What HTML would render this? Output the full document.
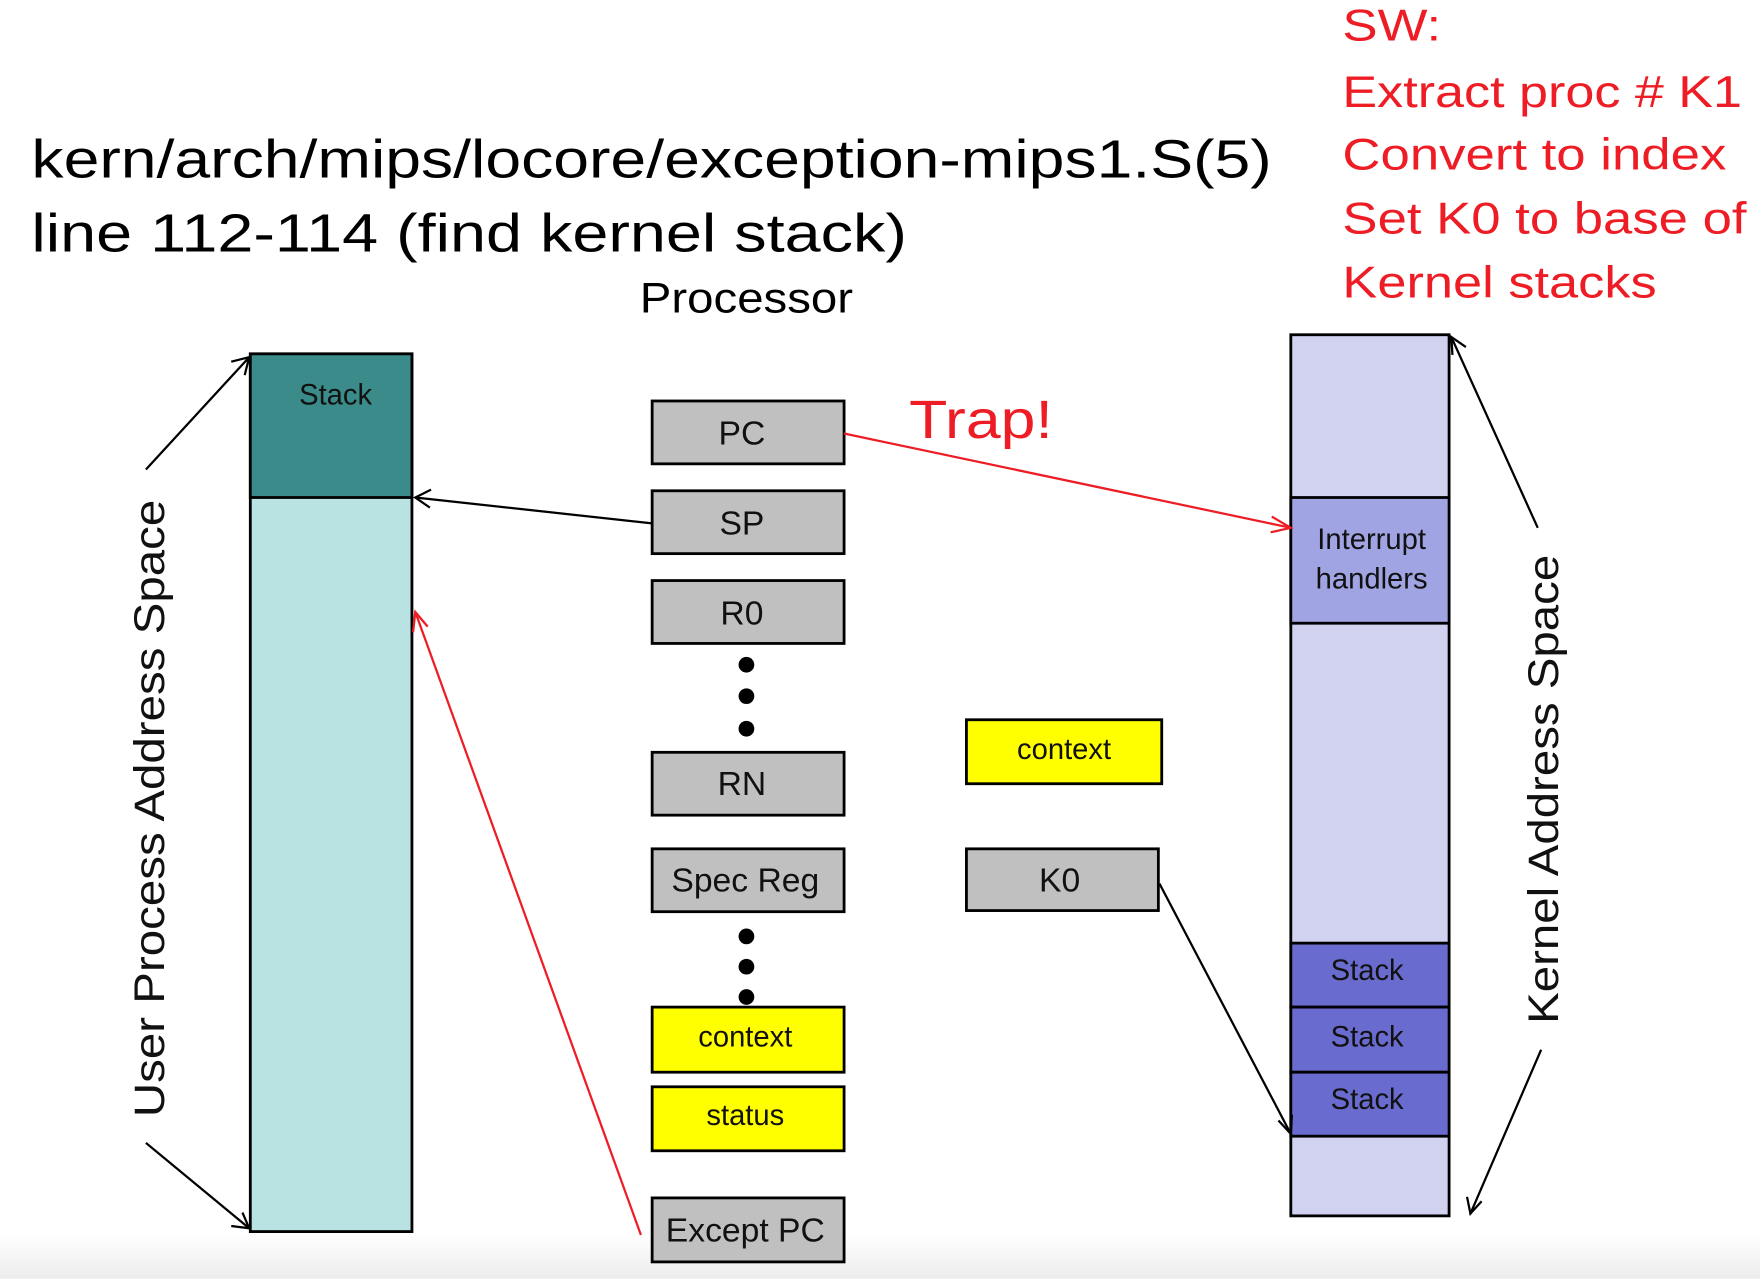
<!DOCTYPE html>
<html><head><meta charset="utf-8"><style>html,body{margin:0;padding:0;background:#fff;}svg{display:block;}svg text{font-family:"Liberation Sans",Arial,sans-serif;}</style></head>
<body>
<svg width="1760" height="1279" viewBox="0 0 1568 1139" xmlns="http://www.w3.org/2000/svg" style="font-family:'Liberation Sans',Arial,sans-serif">
<defs>
<linearGradient id="bg" x1="0" y1="0" x2="0" y2="1"><stop offset="0" stop-color="#fff"/><stop offset="1" stop-color="#ececec"/></linearGradient>
</defs>
<rect width="1568" height="1139" fill="#fff"/>
<rect y="1100" width="1568" height="39" fill="url(#bg)"/>
<text x="28" y="158" font-size="48" textLength="1105" lengthAdjust="spacingAndGlyphs">kern/arch/mips/locore/exception-mips1.S(5)</text>
<text x="28" y="224" font-size="48" textLength="780" lengthAdjust="spacingAndGlyphs">line 112-114 (find kernel stack)</text>
<text x="570" y="278" font-size="38" textLength="190" lengthAdjust="spacingAndGlyphs">Processor</text>
<g fill="#ee1c24" font-size="40">
<text x="1196" y="36" textLength="88" lengthAdjust="spacingAndGlyphs">SW:</text>
<text x="1196" y="95" textLength="356" lengthAdjust="spacingAndGlyphs">Extract proc # K1</text>
<text x="1196" y="151" textLength="342" lengthAdjust="spacingAndGlyphs">Convert to index</text>
<text x="1196" y="208" textLength="360" lengthAdjust="spacingAndGlyphs">Set K0 to base of</text>
<text x="1196" y="265" textLength="280" lengthAdjust="spacingAndGlyphs">Kernel stacks</text>
</g>
<rect x="223" y="315" width="144" height="782" fill="#b9e2e2" stroke="#000" stroke-width="2.5"/>
<rect x="223" y="315" width="144" height="128" fill="#3b8b8b" stroke="#000" stroke-width="2.5"/>
<text x="299" y="360" font-size="26" text-anchor="middle" fill="#111">Stack</text>
<rect x="1150" y="298" width="141" height="785" fill="#d0d2ef" stroke="#000" stroke-width="2.5"/>
<rect x="1150" y="443" width="141" height="112" fill="#a1a4e2" stroke="#000" stroke-width="2.5"/>
<text x="1222" y="489" font-size="26" text-anchor="middle" fill="#111">Interrupt</text>
<text x="1222" y="524" font-size="26" text-anchor="middle" fill="#111">handlers</text>
<g fill="#6a6bcf" stroke="#000" stroke-width="2.5">
<rect x="1150" y="840" width="141" height="57"/><rect x="1150" y="897" width="141" height="58"/><rect x="1150" y="955" width="141" height="57"/>
</g>
<g font-size="26" text-anchor="middle" fill="#111"><text x="1218" y="873">Stack</text><text x="1218" y="932">Stack</text><text x="1218" y="988">Stack</text></g>
<g stroke="#000" stroke-width="2.5">
<rect x="581" y="357" width="171" height="56" fill="#c0c0c0"/>
<rect x="581" y="437" width="171" height="56" fill="#c0c0c0"/>
<rect x="581" y="517" width="171" height="56" fill="#c0c0c0"/>
<rect x="581" y="670" width="171" height="56" fill="#c0c0c0"/>
<rect x="581" y="756" width="171" height="56" fill="#c0c0c0"/>
<rect x="581" y="897" width="171" height="58" fill="#ffff00"/>
<rect x="581" y="968" width="171" height="57" fill="#ffff00"/>
<rect x="581" y="1067" width="171" height="57" fill="#c0c0c0"/>
<rect x="861" y="641" width="174" height="57" fill="#ffff00"/>
<rect x="861" y="756" width="171" height="55" fill="#c0c0c0"/>
</g>
<g font-size="30" text-anchor="middle" fill="#111">
<text x="661" y="396">PC</text><text x="661" y="476">SP</text><text x="661" y="556">R0</text>
<text x="661" y="708">RN</text><text x="664" y="794">Spec Reg</text>
<text x="944" y="794">K0</text><text x="664" y="1106">Except PC</text>
</g>
<g font-size="26" text-anchor="middle" fill="#111">
<text x="664" y="932">context</text><text x="664" y="1002">status</text><text x="948" y="676">context</text>
</g>
<g fill="#000"><circle cx="665" cy="592" r="7"/><circle cx="665" cy="620" r="7"/><circle cx="665" cy="649" r="7"/>
<circle cx="665" cy="834" r="7"/><circle cx="665" cy="861" r="7"/><circle cx="665" cy="888" r="7"/></g>
<text x="810" y="390" font-size="48" fill="#ee1c24" textLength="128" lengthAdjust="spacingAndGlyphs">Trap!</text>
<g stroke="#000" stroke-width="2" fill="none">
<line x1="130" y1="418" x2="222" y2="318"/><polyline points="206,322 222,318 218,334"/>
<line x1="130" y1="1018" x2="222" y2="1094"/><polyline points="206,1092 222,1094 216,1080"/>
<line x1="581" y1="466" x2="370" y2="443"/><polyline points="384,436 370,443 383,452"/>
<line x1="1033" y1="787" x2="1150" y2="1010"/><polyline points="1139,998 1150,1010 1151,993"/>
<line x1="1370" y1="470" x2="1293" y2="300"/><polyline points="1294,316 1293,300 1306,309"/>
<line x1="1373" y1="935" x2="1310" y2="1081"/><polyline points="1307,1066 1310,1081 1320,1070"/>
</g>
<g stroke="#ee1c24" stroke-width="2" fill="none">
<line x1="752" y1="386" x2="1150" y2="470"/><polyline points="1133,460 1150,470 1132,474"/>
<line x1="571" y1="1100" x2="370" y2="545"/><polyline points="368,563 370,545 381,558"/>
</g>
<text transform="translate(146,720) rotate(-90)" font-size="38" text-anchor="middle" fill="#111" textLength="550" lengthAdjust="spacingAndGlyphs">User Process Address Space</text>
<text transform="translate(1388,703) rotate(-90)" font-size="38" text-anchor="middle" fill="#111" textLength="418" lengthAdjust="spacingAndGlyphs">Kernel Address Space</text>
</svg>
</body></html>
